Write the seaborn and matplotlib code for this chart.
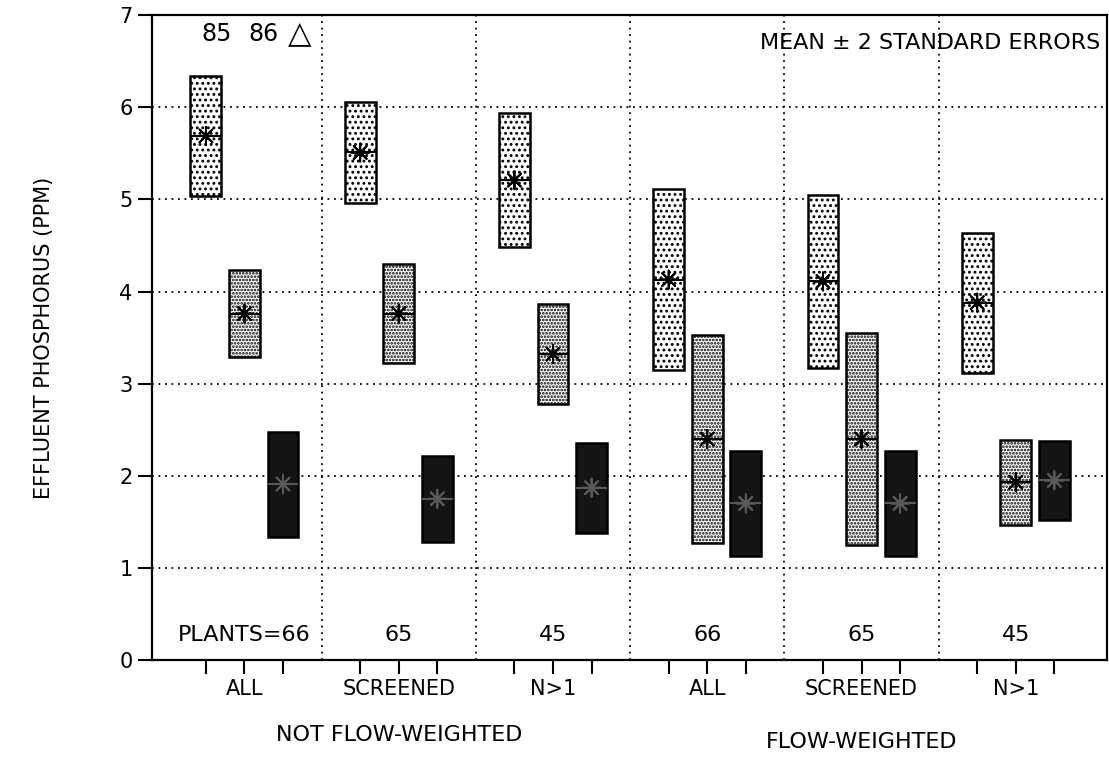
import numpy as np
import pandas as pd
import matplotlib
matplotlib.use("Agg")
import matplotlib.pyplot as plt
import matplotlib.transforms as mtransforms
import seaborn as sns

# Plant subsets and their weighting class
groups = ["ALL", "SCREENED", "N>1", "ALL", "SCREENED", "N>1"]
weighting = ["NOT FLOW-WEIGHTED", "FLOW-WEIGHTED"]
plant_counts = ["PLANTS=66", "65", "45", "66", "65", "45"]
series = ["85", "86", "\u25b3"]

# Mean effluent phosphorus (ppm) and two standard errors, per series
mean_85 = [5.69, 5.51, 5.21, 4.13, 4.11, 3.88]
mean_86 = [3.76, 3.76, 3.32, 2.40, 2.40, 1.93]
mean_tri = [1.91, 1.75, 1.87, 1.70, 1.70, 1.95]
two_se_85 = [0.65, 0.55, 0.73, 0.98, 0.94, 0.76]
two_se_86 = [0.47, 0.54, 0.54, 1.13, 1.15, 0.46]
two_se_tri = [0.57, 0.47, 0.49, 0.57, 0.57, 0.43]

means = [mean_85, mean_86, mean_tri]
two_se = [two_se_85, two_se_86, two_se_tri]

rows = []
for s_idx, name in enumerate(series):
    for g_idx in range(len(groups)):
        rows.append({"series": name, "group": g_idx, "s_idx": s_idx,
                     "mean": means[s_idx][g_idx], "half": two_se[s_idx][g_idx]})
df = pd.DataFrame(rows)
offset = 0.25
df["x"] = df["group"] + (df["s_idx"] - 1) * offset
df["lo"] = df["mean"] - df["half"]

sns.set_theme(style="ticks")
plt.rcParams["font.family"] = ["DejaVu Sans"]
plt.rcParams["hatch.linewidth"] = 1.3

fig = plt.figure(figsize=(11.09, 7.63), dpi=100)
ax = fig.add_axes([0.137, 0.135, 0.861, 0.845])

styles = {
    "85": dict(facecolor="white", hatch="...", edgecolor="black"),
    "86": dict(facecolor="white", hatch=".....", edgecolor="black"),
    "\u25b3": dict(facecolor="#141414", hatch=None, edgecolor="black"),
}

# grid first so the boxes sit on top
for yv in range(1, 7):
    ax.axhline(yv, color="black", lw=1.3, ls=(0, (1, 2.6)), zorder=0)
for xv in np.arange(len(groups) - 1) + 0.5:
    ax.axvline(xv, color="black", lw=1.3, ls=(0, (1, 2.6)), zorder=0)

bar_w = 0.2
for name in series:
    sub = df[df["series"] == name]
    ax.bar(sub["x"], 2 * sub["half"], bottom=sub["lo"], width=bar_w,
           linewidth=1.8, zorder=2, **styles[name])
    # line across the box at the mean
    ax.hlines(sub["mean"], sub["x"] - bar_w / 2, sub["x"] + bar_w / 2,
              color="black" if name != "\u25b3" else "0.35", lw=1.5, zorder=3)

marker_palette = {"85": "black", "86": "black", "\u25b3": "0.35"}
sns.scatterplot(data=df, x="x", y="mean", hue="series", palette=marker_palette,
                marker=(8, 2, 0), s=170, linewidth=1.4, legend=False, ax=ax, zorder=4)

ax.set_xlim(-0.6, len(groups) - 1 + 0.59)
ax.set_ylim(0, 7)
ax.set_yticks(range(0, 8))
ax.set_yticklabels([str(v) for v in range(0, 8)])

xt = []
xl = []
for g_idx, lab in enumerate(groups):
    for k in (-1, 0, 1):
        xt.append(g_idx + k * offset)
        xl.append(lab if k == 0 else "")
ax.set_xticks(xt)
ax.set_xticklabels(xl)
ax.tick_params(axis="both", direction="out", length=10, width=1.5, color="black",
               labelsize=15, labelcolor="black")
ax.tick_params(axis="x", pad=4, labelsize=15)
ax.tick_params(axis="y", pad=4)
for sp in ax.spines.values():
    sp.set_visible(True)
    sp.set_color("black")
    sp.set_linewidth(1.6)
ax.set_xlabel("")
ax.set_ylabel("EFFLUENT PHOSPHORUS (PPM)", fontsize=15, color="black", labelpad=47)

# plant counts inside each panel
for g_idx, txt in enumerate(plant_counts):
    ax.text(g_idx, 0.27, txt, ha="center", va="center", fontsize=16, color="black")

# weighting class labels beneath the subsets
blend = mtransforms.blended_transform_factory(ax.transData, fig.transFigure)
ax.text(1.0, 0.037, weighting[0], transform=blend, ha="center", va="center",
        fontsize=16, color="black")
ax.text(4.0, 0.028, weighting[1], transform=blend, ha="center", va="center",
        fontsize=16, color="black")

# series key and interval note
ax.text(-0.18, 6.8, series[0], ha="center", va="center", fontsize=17, color="black")
ax.text(0.12, 6.8, series[1], ha="center", va="center", fontsize=17, color="black")
ax.text(0.36, 6.8, series[2], ha="center", va="center", fontsize=22, color="black")
ax.text(5.545, 6.7, "MEAN \u00b1 2 STANDARD ERRORS", ha="right", va="center",
        fontsize=16, color="black")

fig.savefig("out.png", dpi=100)
